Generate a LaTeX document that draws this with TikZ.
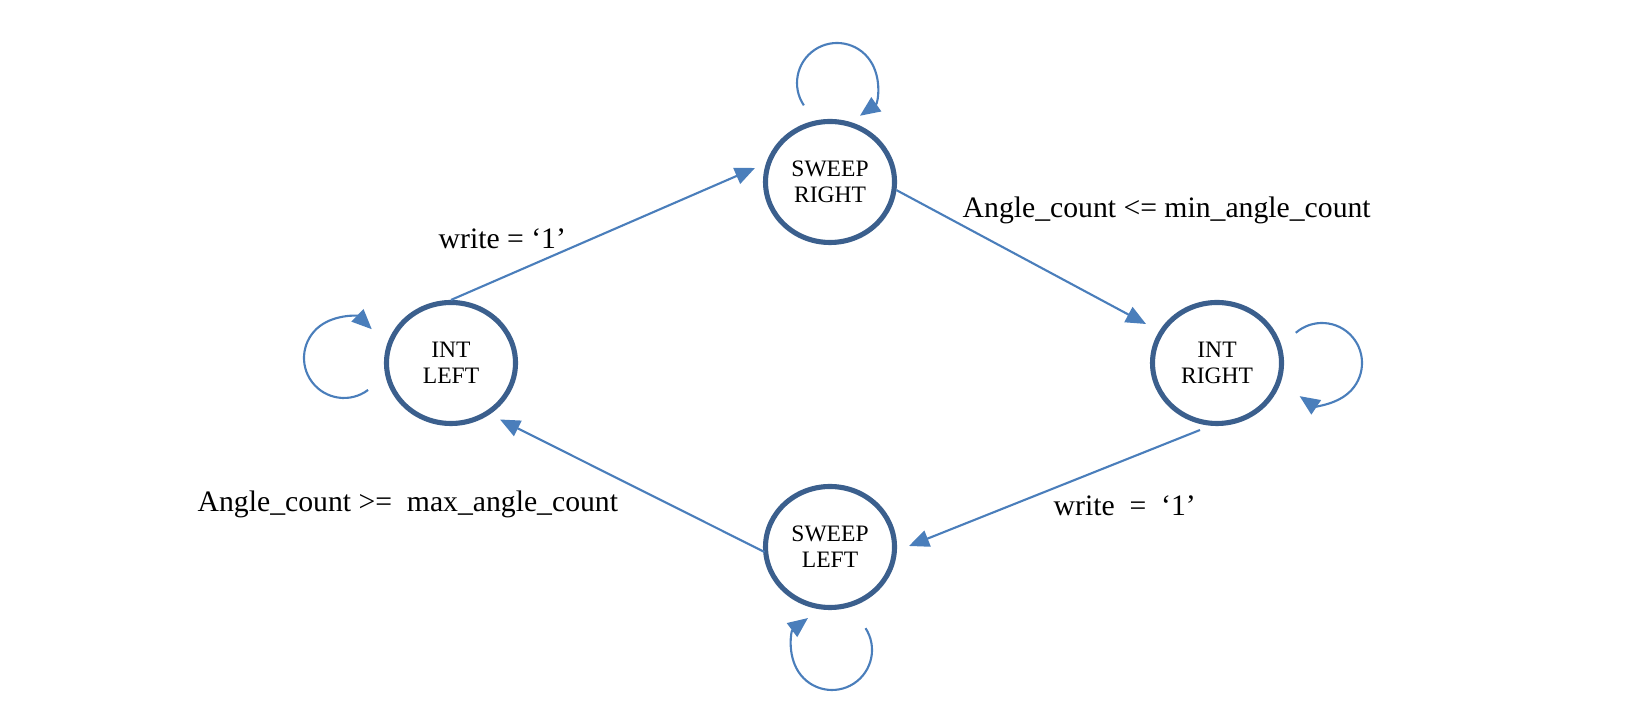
\documentclass[tikz,border=0pt]{standalone}
\usepackage{fontspec}
\setmainfont{Liberation Serif}
\usetikzlibrary{shapes.geometric,arrows.meta}

\definecolor{stateblue}{HTML}{3B5F8D}
\definecolor{arrowblue}{HTML}{4A7EBB}

\tikzset{
    state/.style={ellipse, draw=stateblue, line width=1.45pt, minimum width=1.29cm,
        minimum height=1.21cm, inner sep=0pt, align=center,
        font=\fontsize{6.7}{7.4}\selectfont},
    trans/.style={draw=arrowblue, line width=0.6pt, -{Triangle[length=2mm,width=1.7mm]}},
    cond/.style={anchor=base west, inner sep=0pt, font=\fontsize{8.45}{10}\selectfont}
}

\begin{document}
\begin{tikzpicture}
    \useasboundingbox (0,0) rectangle (16.52,7.05);

    % Draw states
    \node[state] (sr) at (8.30,5.23) {SWEEP\\RIGHT};
    \node[state] (il) at (4.51,3.42) {INT\\LEFT};
    \node[state] (ir) at (12.17,3.42) {INT\\RIGHT};
    \node[state] (sl) at (8.30,1.58) {SWEEP\\LEFT};

    % Draw transitions between states
    \draw[trans] (il.north) -- ([shift={(-0.75,0.14)}]sr.center);
    \draw[trans] (sr.-7) -- ([shift={(-0.71,0.39)}]ir.center);
    \draw[trans] ([shift={(-0.17,-0.67)}]ir.center) -- ([shift={(0.79,0.01)}]sl.center);
    \draw[trans] ([shift={(-0.655,-0.05)}]sl.center) -- ([shift={(0.49,-0.565)}]il.center);

    % Draw self loops
    \foreach \st/\dx/\dy/\a/\b in {sr/0.07/0.99/214/-55, il/-1.07/0.05/-53/-314,
                                   ir/1.05/0.0/131/-124, sl/0.02/-1.03/33/-233} {
        \draw[trans] (\st.center) ++(\dx,\dy) ++(\a:0.4) arc[start angle=\a, end angle=\b, radius=0.4];
    }

    % Add conditions
    \node[cond] (c1) at (4.38,4.56) {write = ‘1’};
    \node[cond] (c2) at (9.62,4.87) {Angle\_count <= min\_angle\_count};
    \node[cond] (c3) at (10.53,1.89) {write \ = \ ‘1’};
    \node[cond] (c4) at (1.97,1.93) {Angle\_count >= \ max\_angle\_count};
\end{tikzpicture}
\end{document}
